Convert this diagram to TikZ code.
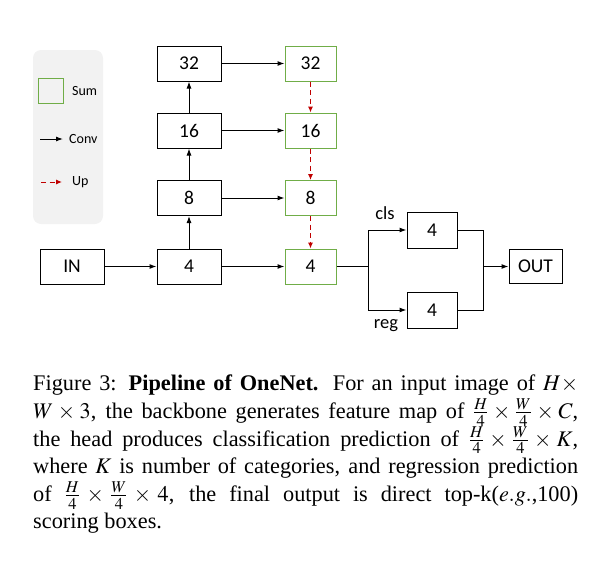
\documentclass[tikz,border=0pt]{standalone}
\usepackage{mathptmx}
\usepackage{fontspec}
\setmainfont{Liberation Serif}
\newfontfamily\diagfont{Carlito}
\usetikzlibrary{positioning,arrows.meta}
\definecolor{sumgreen}{RGB}{112,173,71}
\definecolor{upred}{RGB}{192,0,0}
\definecolor{legendgray}{RGB}{242,242,242}

\begin{document}
\begin{tikzpicture}[
    x=1pt,y=-1pt,
    box/.style={rectangle,draw,line width=1pt,minimum width=64pt,minimum height=35pt,inner sep=0pt,font=\diagfont\fontsize{19.5}{22}\selectfont},
    sumbox/.style={box,draw=sumgreen,minimum width=51pt},
    headbox/.style={box,minimum width=50pt,minimum height=36pt},
    conv/.style={-{Latex[length=7pt,width=5pt]},line width=1pt},
    up/.style={-{Latex[length=6pt,width=5pt]},dash pattern=on 5pt off 3.5pt,draw=upred,line width=1pt},
    lbl/.style={inner sep=0pt,font=\diagfont\fontsize{18.5}{21}\selectfont},
    leglbl/.style={lbl,anchor=west,font=\diagfont\fontsize{14}{16}\selectfont}
]
\useasboundingbox (0,0) rectangle (599,562);

% legend
\fill[legendgray,rounded corners=8pt] (33,50) rectangle (103,224);
\node[sumbox,minimum width=25pt,minimum height=25pt] (legsum) at (50.5,90.5) {};
\node[leglbl] (legsumtxt) at (72,91) {Sum};
\coordinate (convA) at (40,139);
\coordinate (convB) at (63,139);
\draw[conv] (convA) -- (convB);
\node[leglbl] (legconv) at (69,139) {Conv};
\coordinate (upA) at (41,182);
\coordinate (upB) at (62,182);
\draw[up] (upA) -- (upB);
\node[leglbl] (legup) at (72,182) {Up};

% backbone
\node[box] (in) at (72,266.5) {IN};
\node[box] (b4) at (189,266.5) {4};
\node[box] (b8) at (189,198) {8};
\node[box] (b16) at (189,130.5) {16};
\node[box] (b32) at (189,63.5) {32};
\node[sumbox] (s4) at (310.5,266.5) {4};
\node[sumbox] (s8) at (310.5,198) {8};
\node[sumbox] (s16) at (310.5,130.5) {16};
\node[sumbox] (s32) at (310.5,63.5) {32};

\draw[conv] (in) -- (b4);
\draw[conv] (b4) -- (b8);
\draw[conv] (b8) -- (b16);
\draw[conv] (b16) -- (b32);
\draw[conv] (b4) -- (s4);
\draw[conv] (b8) -- (s8);
\draw[conv] (b16) -- (s16);
\draw[conv] (b32) -- (s32);
\draw[up] (s32) -- (s16);
\draw[up] (s16) -- (s8);
\draw[up] (s8) -- (s4);

% head
\node[headbox] (cls) at (432,230) {4};
\node[headbox] (reg) at (432,310) {4};
\node[box,minimum width=53pt,minimum height=34pt] (out) at (535.5,266.5) {OUT};
\coordinate (split) at (368,266.5);
\coordinate (merge) at (483,266.5);
\node[lbl] (clstxt) at (385,213) {cls};
\node[lbl] (regtxt) at (386,326) {reg};

\draw[line width=1pt] (s4) -- (split);
\draw[conv] (split) |- (cls);
\draw[conv] (split) |- (reg);
\draw[line width=1pt] (cls) -| (merge);
\draw[line width=1pt] (reg) -| (merge);
\draw[conv] (merge) -- (out);

% caption
\node[anchor=north west,inner sep=0pt,text width=545pt,align=justify,font=\fontsize{22.3}{27.6}\selectfont] (caption) at (33,375)
  {Figure 3: \textbf{Pipeline of OneNet.} For an input image of $H\times$\linebreak
   $W\times 3$, the backbone generates feature map of $\frac{H}{4}\times\frac{W}{4}\times C$,\linebreak
   the head produces classification prediction of $\frac{H}{4}\times\frac{W}{4}\times K$,\linebreak
   where $K$ is number of categories, and regression prediction\linebreak
   of $\frac{H}{4}\times\frac{W}{4}\times 4$, the final output is direct top-k($e.g.$,100)\linebreak
   scoring boxes.};
\end{tikzpicture}
\end{document}
